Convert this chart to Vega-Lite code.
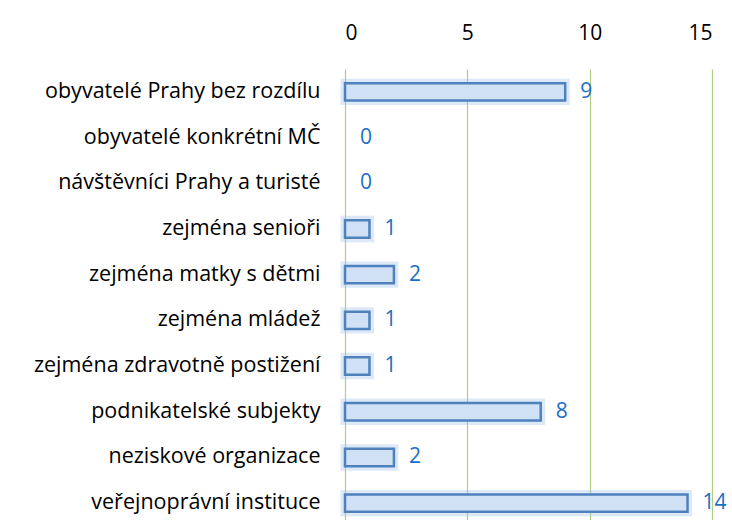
{
  "$schema": "https://vega.github.io/schema/vega-lite/v6.json",
  "width": 367,
  "height": 457,
  "autosize": {"type": "none"},
  "padding": {"left": 345, "top": 69, "right": 20, "bottom": 0},
  "background": "white",
  "config": {"view": {"stroke": null}, "font": "Open Sans"},
  "data": {"values": [
    {"kategorie": "obyvatelé Prahy bez rozdílu", "pocet": 9},
    {"kategorie": "obyvatelé konkrétní MČ", "pocet": 0},
    {"kategorie": "návštěvníci Prahy a turisté", "pocet": 0},
    {"kategorie": "zejména senioři", "pocet": 1},
    {"kategorie": "zejména matky s dětmi", "pocet": 2},
    {"kategorie": "zejména mládež", "pocet": 1},
    {"kategorie": "zejména zdravotně postižení", "pocet": 1},
    {"kategorie": "podnikatelské subjekty", "pocet": 8},
    {"kategorie": "neziskové organizace", "pocet": 2},
    {"kategorie": "veřejnoprávní instituce", "pocet": 14}
  ]},
  "encoding": {
    "y": {"field": "kategorie", "type": "nominal",
      "sort": ["obyvatelé Prahy bez rozdílu", "obyvatelé konkrétní MČ", "návštěvníci Prahy a turisté", "zejména senioři", "zejména matky s dětmi", "zejména mládež", "zejména zdravotně postižení", "podnikatelské subjekty", "neziskové organizace", "veřejnoprávní instituce"],
      "scale": {"paddingInner": 0.62, "paddingOuter": 0.31},
      "axis": {"title": null, "domain": false, "ticks": false, "labelPadding": 25, "labelLimit": 400,
        "labelFontSize": 21.5, "labelColor": "#000000", "labelFont": "Open Sans"}},
    "x": {"field": "pocet", "type": "quantitative",
      "scale": {"domain": [0, 15]},
      "axis": {"orient": "top", "title": null, "values": [0, 5, 10, 15], "domain": false, "ticks": false,
        "labelPadding": 26, "labelFontSize": 21, "labelColor": "#000000", "labelFont": "Open Sans",
        "gridColor": "#b3cc82", "gridWidth": 1.2}}
  },
  "layer": [
    {"transform": [{"filter": "datum.pocet > 0"}],
     "mark": {"type": "bar", "fill": "#d0e1f6", "stroke": "#9ec0ec", "strokeWidth": 9, "strokeOpacity": 0.35}},
    {"transform": [{"filter": "datum.pocet > 0"}],
     "mark": {"type": "bar", "fill": "#d0e1f6", "stroke": "#4f81bd", "strokeWidth": 2.5}},
    {"mark": {"type": "text", "align": "left", "dx": 15, "fontSize": 21, "color": "#1a6ec6", "font": "Open Sans"},
     "encoding": {"text": {"field": "pocet", "type": "quantitative"}}}
  ]
}
